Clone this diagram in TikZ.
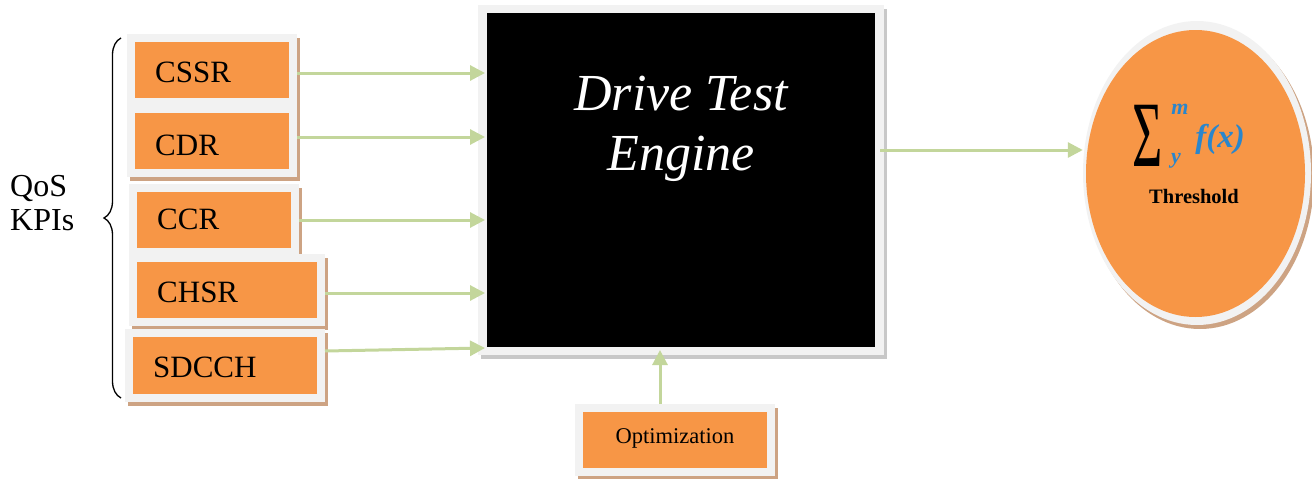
\documentclass[tikz,border=0pt]{standalone}
\usepackage{fontspec}
\setmainfont{Liberation Serif}
\usepackage{graphicx}
\usetikzlibrary{arrows.meta,shapes.geometric,decorations.pathreplacing}
\definecolor{kpiorange}{HTML}{F79646}
\definecolor{framegray}{HTML}{F2F2F2}
\definecolor{shadowbrown}{HTML}{CDA383}
\definecolor{shadowgray}{HTML}{C8C8C8}
\definecolor{arrowgreen}{HTML}{C3D69B}
\definecolor{mathblue}{HTML}{2A86CC}
\begin{document}
\begin{tikzpicture}[x=1pt,y=-1pt,
  box/.style={rectangle,inner sep=0pt,outer sep=0pt},
  framebox/.style={box,fill=framegray},
  shadowbox/.style={box,fill=shadowbrown},
  kpibox/.style={box,fill=kpiorange},
  kpilabel/.style={inner sep=0pt,anchor=base west,font=\fontsize{31}{31}\selectfont},
  arr/.style={draw=arrowgreen,line width=3pt,-{Triangle[length=15pt,width=15pt]}},
]
\useasboundingbox (0,0) rectangle (1312,479);

% QoS KPIs label and brace
\node[inner sep=0pt,anchor=base west,font=\fontsize{32}{32}\selectfont] (qos) at (10,196) {QoS};
\node[inner sep=0pt,anchor=base west,font=\fontsize{32}{32}\selectfont] (kpis) at (10,230) {KPIs};
\draw[decorate,decoration={brace,amplitude=17pt},line width=1.3pt] (121,398) -- (121,38);

% CSSR
\node[shadowbox,minimum width=170pt,minimum height=72pt] (cssrS) at (215,74) {};
\node[framebox,minimum width=170pt,minimum height=72pt] (cssrF) at (212,70) {};
\node[kpibox,minimum width=154pt,minimum height=56pt] (cssr) at (212,70) {};
\node[kpilabel] (cssrT) at (155,82) {CSSR};
% CDR
\node[shadowbox,minimum width=170pt,minimum height=72pt] (cdrS) at (215,145) {};
\node[framebox,minimum width=170pt,minimum height=72pt] (cdrF) at (212,141) {};
\node[kpibox,minimum width=154pt,minimum height=56pt] (cdr) at (212,141) {};
\node[kpilabel] (cdrT) at (155,155) {CDR};
% CCR
\node[shadowbox,minimum width=170pt,minimum height=72pt] (ccrS) at (217,224) {};
\node[framebox,minimum width=170pt,minimum height=72pt] (ccrF) at (214,220) {};
\node[kpibox,minimum width=154pt,minimum height=56pt] (ccr) at (214,220) {};
\node[kpilabel] (ccrT) at (157,229) {CCR};
% CHSR
\node[shadowbox,minimum width=196pt,minimum height=72pt] (chsrS) at (230,294) {};
\node[framebox,minimum width=196pt,minimum height=72pt] (chsrF) at (227,290) {};
\node[kpibox,minimum width=180pt,minimum height=56pt] (chsr) at (227,290) {};
\node[kpilabel] (chsrT) at (157,302) {CHSR};
% SDCCH
\node[shadowbox,minimum width=200pt,minimum height=73pt] (sdcchS) at (228,369.5) {};
\node[framebox,minimum width=200pt,minimum height=73pt] (sdcchF) at (225,365.5) {};
\node[kpibox,minimum width=184pt,minimum height=57pt] (sdcch) at (225,365.5) {};
\node[kpilabel] (sdcchT) at (153,377) {SDCCH};

% Drive Test Engine
\node[box,fill=shadowgray,minimum width=406pt,minimum height=350pt] (engineS) at (684,184) {};
\node[framebox,minimum width=406pt,minimum height=350pt] (engineF) at (681,180) {};
\node[box,fill=black,minimum width=388pt,minimum height=334pt] (engine) at (681,180) {};
\node[inner sep=0pt,anchor=base,text=white,font=\fontsize{52}{52}\selectfont\itshape] (eng1) at (681,110) {Drive Test};
\node[inner sep=0pt,anchor=base,text=white,font=\fontsize{52}{52}\selectfont\itshape] (eng2) at (681,170) {Engine};

% Optimization
\node[shadowbox,minimum width=200pt,minimum height=72pt] (optS) at (678,444) {};
\node[framebox,minimum width=200pt,minimum height=72pt] (optF) at (675,440) {};
\node[kpibox,minimum width=184pt,minimum height=56pt] (opt) at (675,440) {};
\node[inner sep=0pt,anchor=base,font=\fontsize{22.5}{22.5}\selectfont] (optT) at (675,443) {Optimization};

% Threshold ellipse
\node[ellipse,inner sep=0pt,fill=shadowbrown,minimum width=228pt,minimum height=304pt] (thrS) at (1200,177) {};
\node[ellipse,inner sep=0pt,fill=framegray,minimum width=228pt,minimum height=304pt] (thrF) at (1197,173) {};
\node[ellipse,inner sep=0pt,fill=kpiorange,minimum width=219pt,minimum height=287pt] (thr) at (1195.5,173.5) {};
\node[inner sep=0pt,text=black,font=\fontsize{52}{52}\selectfont] (sigma) at (1147.5,136) {\scalebox{1}[1.8]{Σ}};
\node[inner sep=0pt,text=mathblue,font=\fontsize{22}{22}\selectfont\bfseries\itshape] (supm) at (1180,109) {m};
\node[inner sep=0pt,text=mathblue,font=\fontsize{22}{22}\selectfont\bfseries\itshape] (suby) at (1176,161) {y};
\node[inner sep=0pt,text=mathblue,font=\fontsize{33}{33}\selectfont\bfseries\itshape] (fx) at (1220,139) {f(x)};
\node[inner sep=0pt,anchor=base,font=\fontsize{20.5}{20.5}\selectfont\bfseries] (thrT) at (1194,203) {Threshold};

% connectors
\coordinate (ein) at ([xshift=-2pt]engine.west);
\draw[arr] ([yshift=-3pt]cssrF.east) coordinate (c1) -- (c1 -| ein);
\draw[arr] ([yshift=4pt]cdrF.east) coordinate (c2) -- (c2 -| ein);
\draw[arr] (ccrF.east) coordinate (c3) -- (c3 -| ein);
\draw[arr] ([yshift=-3pt]chsrF.east) coordinate (c4) -- (c4 -| ein);
\draw[arr] ([yshift=14.5pt]sdcchF.east) -- ([xshift=-2pt,yshift=-168pt]engine.west);
\draw[arr] ([xshift=-4pt,yshift=30pt]engineF.east) coordinate (eo) -- (eo -| thrF.west);
\coordinate (eb) at ([yshift=-3pt]engine.south);
\draw[arr] ([xshift=-15pt]optF.north) coordinate (oo) -- (oo |- eb);
\end{tikzpicture}
\end{document}
